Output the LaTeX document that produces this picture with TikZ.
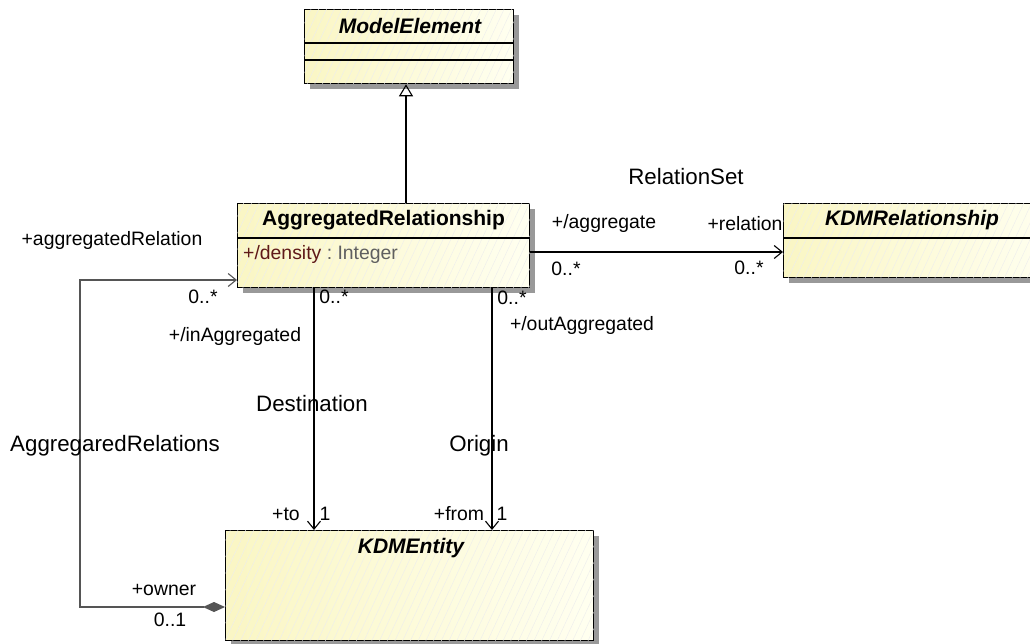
\documentclass[tikz,border=0pt]{standalone}
\usepackage{fontspec}
\setmainfont{Liberation Sans}
\usetikzlibrary{arrows.meta,patterns.meta,shadows}
\definecolor{attrred}{RGB}{95,25,25}
\definecolor{attrgray}{RGB}{95,95,95}
\definecolor{boxL}{RGB}{250,246,196}
\definecolor{boxR}{RGB}{255,255,240}
\definecolor{aggline}{RGB}{85,85,85}
\tikzset{
  umlbox/.style={draw=black, line width=1.3pt, anchor=north west, inner sep=0pt,
    left color=boxL, right color=boxR,
    drop shadow={shadow xshift=5pt, shadow yshift=-5pt, fill=black!40, opacity=1},
    postaction={pattern={Lines[angle=65,distance=7pt,line width=0.4pt]}, pattern color=black!7}},
  cdiv/.style={draw=black, line width=1.2pt},
  lbl/.style={inner sep=0pt, font=\fontsize{19.4}{22}\selectfont},
  aname/.style={inner sep=0pt, font=\fontsize{22.3}{25}\selectfont},
  ttl/.style={inner sep=0pt, font=\fontsize{21}{24}\selectfont\bfseries},
  ittl/.style={inner sep=0pt, font=\fontsize{21}{24}\selectfont\bfseries\itshape},
  conn/.style={draw=black, line width=1.2pt},
  gen/.style={conn, -{Triangle[open, length=12pt, width=14pt, line width=1.1pt]}},
  nav/.style={conn, -{Straight Barb[length=8pt, width=13pt, line width=1.1pt]}},
}
\begin{document}
\begin{tikzpicture}[x=1pt, y=-1pt]
\clip (0,0) rectangle (1030,643);
\fill[white] (0,0) rectangle (1030,643);

% boxes
\node[umlbox, minimum width=209pt, minimum height=74pt] (me) at (304,9) {};
\draw[cdiv] ([yshift=-34pt]me.north west) -- ([yshift=-34pt]me.north east);
\draw[cdiv] ([yshift=-51pt]me.north west) -- ([yshift=-51pt]me.north east);
\node[ittl] (meT) at (410,26) {ModelElement};

\node[umlbox, minimum width=292pt, minimum height=84pt] (ar) at (237,203) {};
\draw[cdiv] ([yshift=-35pt]ar.north west) -- ([yshift=-35pt]ar.north east);
\node[ttl] (arT) at (383.5,220) {AggregatedRelationship};
\node[lbl, anchor=west] (arA) at (243,254) {\textcolor{attrred}{+/density}\textcolor{attrgray}{\ :\ Integer}};

\node[umlbox, minimum width=270pt, minimum height=74pt] (kr) at (783,203) {};
\draw[cdiv] ([yshift=-35pt]kr.north west) -- ([yshift=-35pt]kr.north east);
\node[ittl] (krT) at (912,220) {KDMRelationship};

\node[umlbox, minimum width=368pt, minimum height=110pt] (ke) at (225,530) {};
\node[ittl] (keT) at (411,548) {KDMEntity};

% connectors
\draw[gen] ([xshift=169pt]ar.north west) -- ([xshift=102pt]me.south west);
\draw[nav] ([yshift=-49pt]ar.north east) -- ([yshift=-49pt]kr.north west);
\draw[nav] ([xshift=77pt]ar.south west) -- ([xshift=89pt]ke.north west);
\draw[nav] ([xshift=255pt]ar.south west) -- ([xshift=267pt]ke.north west);
\coordinate (aggB) at (80,607);
\coordinate (aggT) at (80,280);
\draw[draw=aggline, line width=1.2pt,
  {Diamond[length=22pt, width=10pt, fill=aggline]}-{Straight Barb[length=8pt, width=13pt, line width=1.1pt]}]
  ([yshift=-77pt]ke.north west) -- (aggB) -- (aggT) -- (aggT -| ar.west);

% labels
\node[aname] (l1) at (686,177) {RelationSet};
\node[lbl] (l2) at (604,223) {+/aggregate};
\node[lbl] (l3) at (745,224) {+relation};
\node[lbl] (l4) at (566,269) {0..*};
\node[lbl] (l5) at (749,268) {0..*};
\node[lbl] (l6) at (112,240) {+aggregatedRelation};
\node[lbl] (l7) at (203,297) {0..*};
\node[lbl] (l8) at (334,297) {0..*};
\node[lbl] (l9) at (235,336) {+/inAggregated};
\node[lbl] (l10) at (512,298) {0..*};
\node[lbl] (l11) at (582,325) {+/outAggregated};
\node[aname] (l12) at (312,404) {Destination};
\node[aname] (l13) at (115,446) {AggregaredRelations};
\node[aname] (l14) at (479,446) {Origin};
\node[lbl] (l15) at (286,514) {+to};
\node[lbl] (l16) at (325,514) {1};
\node[lbl] (l17) at (459,514) {+from};
\node[lbl] (l18) at (502,514) {1};
\node[lbl] (l19) at (164,590) {+owner};
\node[lbl] (l20) at (170,620) {0..1};
\end{tikzpicture}
\end{document}
